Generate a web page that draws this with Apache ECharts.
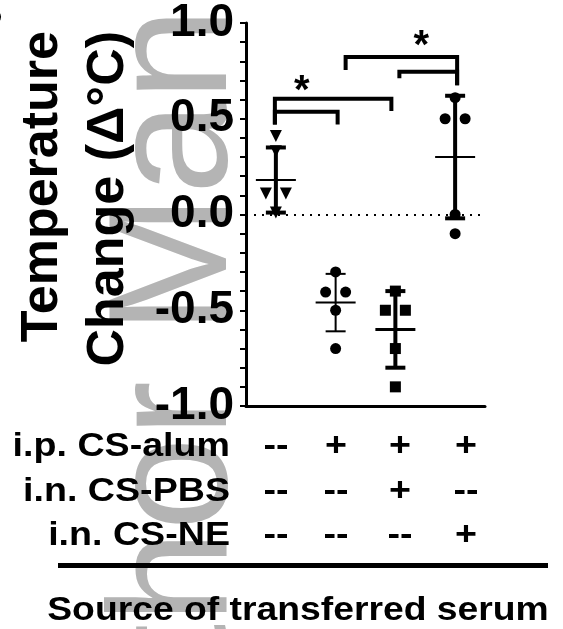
<!DOCTYPE html>
<html>
<head>
<meta charset="utf-8">
<script src="https://cdn.jsdelivr.net/npm/echarts@6/dist/echarts.min.js"></script>
<style>
  html, body { margin: 0; padding: 0; background: #fff; }
  #chart { width: 563px; height: 629px; }
</style>
</head>
<body>
<div id="chart"></div>
<script>
var groups = ['ctrl', 'CS-alum', 'CS-alum + CS-PBS', 'CS-alum + CS-NE'];
var points = [
  [0.41, 0.33, 0.11, 0.11, 0.01],
  [-0.30, -0.405, -0.405, -0.50, -0.70],
  [-0.40, -0.50, -0.50, -0.70, -0.90],
  [0.61, 0.50, 0.50, 0.00, -0.10]
];
var means = [0.18, -0.46, -0.60, 0.30];
var sds = [0.17, 0.15, 0.20, 0.32];
var yTicks = [-1.0, -0.5, 0.0, 0.5, 1.0];
var rowLabels = ['i.p. CS-alum', 'i.n. CS-PBS', 'i.n. CS-NE'];
var rowSigns = [
  ['--', '+', '+', '+'],
  ['--', '--', '+', '--'],
  ['--', '--', '--', '+']
];
// [left group, right group, top, left foot, right foot]
var brackets = [
  [0, 2, 0.605, 0.47, 0.54],
  [0, 1, 0.536, 0.47, 0.47],
  [1, 3, 0.823, 0.755, 0.675],
  [2, 3, 0.745, 0.712, 0.675]
];
// [left group, right group, value] - star above the pair
var stars = [
  [0, 1, 0.64],
  [2, 3, 0.875]
];

// styles
var symbols = ['triangle', 'circle', 'rect', 'circle'];
var symbolRot = [180, 0, 0, 0];
var symbolSizes = [12, 11, 11, 11];
var barWidths = [4, 2, 4, 4];
var meanWidths = [2, 2, 3, 2];
var bracketNudge = [[-1, -4], [-1, 2], [10, 2], [4, 2]];
var colX = [276, 336, 400, 466];
var rowY = [447, 492, 536];
var FONT = '"Liberation Sans", Arial, sans-serif';

var chart = echarts.init(document.getElementById('chart'));

function spread(vals) {
  // side by side offsets for repeated values
  return vals.map(function (v, k) {
    var same = [];
    vals.forEach(function (w, j) { if (w === v) same.push(j); });
    if (same.length < 2) return 0;
    var pos = same.indexOf(k);
    return (pos - (same.length - 1) / 2) * 20;
  });
}

var scatterSeries = points.map(function (vals, g) {
  var dx = spread(vals);
  return {
    type: 'scatter',
    symbol: symbols[g],
    symbolRotate: symbolRot[g],
    symbolSize: symbolSizes[g],
    itemStyle: { color: '#000', opacity: 1 },
    z: 3,
    silent: true,
    data: vals.map(function (v, k) {
      return { value: [g, v], symbolOffset: [dx[k], 0] };
    })
  };
});

function txt(x, y, text, font, align, extra) {
  var el = {
    type: 'text', x: x, y: y, z: 10,
    style: { text: text, font: font, fill: '#000',
      align: align, verticalAlign: 'middle', textAlign: align, textVerticalAlign: 'middle' }
  };
  for (var k in extra) el[k] = extra[k];
  return el;
}

var graphics = [
  {
    type: 'text', x: 180, y: 876, rotation: Math.PI / 2, z: -1,
    style: { text: 'Author Manuscript', font: '168px ' + FONT, fill: '#b4b4b4',
      align: 'left', verticalAlign: 'middle', textAlign: 'left', textVerticalAlign: 'middle' }
  },
  txt(3, 14, 'B', 'bold 40px ' + FONT, 'right', {}),
  txt(43, 31, 'Temperature', 'bold 52px ' + FONT, 'right', { rotation: Math.PI / 2 }),
  txt(109, 31, 'Change (\u0394\u00B0C)', 'bold 52px ' + FONT, 'right', { rotation: Math.PI / 2 }),
  {
    type: 'line', z: 10,
    shape: { x1: 58, y1: 565.5, x2: 548, y2: 565.5 },
    style: { stroke: '#000', lineWidth: 5 }
  },
  txt(298, 611, 'Source of transferred serum', 'bold 33px ' + FONT, 'center', { scaleX: 1.13 })
];
rowLabels.forEach(function (lab, r) {
  graphics.push(txt(230, rowY[r], lab, 'bold 33px ' + FONT, 'right', { scaleX: 1.14 }));
  rowSigns[r].forEach(function (s, c) {
    graphics.push(txt(colX[c], rowY[r], s, 'bold 33px ' + FONT, 'center', { scaleX: 1.14 }));
  });
});

chart.setOption({
  animation: false,
  backgroundColor: '#fff',
  grid: { left: 246, right: 78, top: 22, bottom: 223 },
  xAxis: {
    type: 'category',
    data: groups,
    boundaryGap: true,
    axisLine: { onZero: false, lineStyle: { color: '#000', width: 3 } },
    axisTick: { alignWithLabel: true, length: 8, lineStyle: { color: '#000', width: 2 } },
    axisLabel: { show: false },
    splitLine: { show: false }
  },
  yAxis: {
    type: 'value',
    min: -1,
    max: 1,
    interval: 0.1,
    axisLine: { show: true, lineStyle: { color: '#000', width: 3 } },
    axisTick: { show: true, length: 6, lineStyle: { color: '#000', width: 2 } },
    axisLabel: {
      color: '#000', fontSize: 46, fontWeight: 'bold', fontFamily: FONT, margin: 12,
      formatter: function (v) {
        var r = Math.round(v * 10) / 10;
        for (var i = 0; i < yTicks.length; i++) {
          if (Math.abs(yTicks[i] - r) < 1e-6) return r.toFixed(1);
        }
        return '';
      }
    },
    splitLine: { show: false }
  },
  graphic: graphics,
  series: scatterSeries.concat([
    {
      type: 'custom',
      z: 5,
      silent: true,
      data: means.map(function (m, i) { return [i, m, sds[i]]; }),
      renderItem: function (params, api) {
        var i = api.value(0), m = api.value(1), s = api.value(2);
        var c = api.coord([i, m]);
        var top = api.coord([i, m + s])[1];
        var bot = api.coord([i, m - s])[1];
        var st = { stroke: '#000', lineWidth: barWidths[i] };
        return {
          type: 'group',
          children: [
            { type: 'line', shape: { x1: c[0], y1: top, x2: c[0], y2: bot }, style: st },
            { type: 'line', shape: { x1: c[0] - 10, y1: top, x2: c[0] + 10, y2: top }, style: st },
            { type: 'line', shape: { x1: c[0] - 10, y1: bot, x2: c[0] + 10, y2: bot }, style: st },
            { type: 'line', shape: { x1: c[0] - 20, y1: c[1], x2: c[0] + 20, y2: c[1] },
              style: { stroke: '#000', lineWidth: meanWidths[i] } }
          ]
        };
      },
      markLine: {
        silent: true,
        symbol: 'none',
        label: { show: false },
        lineStyle: { color: '#000', width: 2, type: [2, 6] },
        data: [{ yAxis: 0 }]
      }
    },
    {
      type: 'custom',
      z: 5,
      silent: true,
      data: brackets,
      renderItem: function (params, api) {
        var k = params.dataIndex;
        var l = api.coord([api.value(0), api.value(2)]);
        var r = api.coord([api.value(1), api.value(2)]);
        var xl = l[0] + bracketNudge[k][0], xr = r[0] + bracketNudge[k][1];
        var lf = api.coord([api.value(0), api.value(3)])[1];
        var rf = api.coord([api.value(1), api.value(4)])[1];
        return {
          type: 'polyline',
          shape: { points: [[xl, lf], [xl, l[1]], [xr, l[1]], [xr, rf]] },
          style: { stroke: '#000', lineWidth: 4, fill: null, lineJoin: 'miter' }
        };
      }
    },
    {
      type: 'custom',
      z: 5,
      silent: true,
      data: stars,
      renderItem: function (params, api) {
        var a = api.coord([api.value(0), api.value(2)]);
        var b = api.coord([api.value(1), api.value(2)]);
        return {
          type: 'text',
          x: (a[0] + b[0]) / 2 - 4,
          y: a[1],
          style: { text: '*', font: 'bold 40px ' + FONT, fill: '#000',
            align: 'center', verticalAlign: 'middle' }
        };
      }
    }
  ])
});
</script>
</body>
</html>
